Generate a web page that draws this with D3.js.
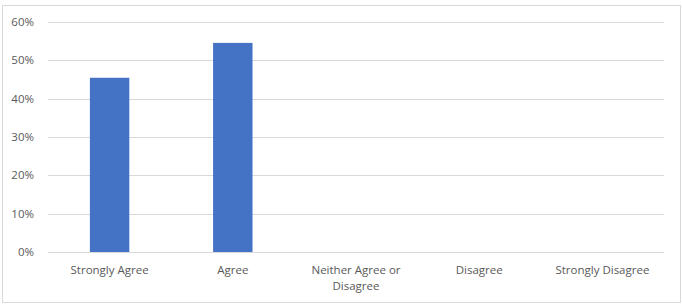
<!DOCTYPE html>
<html>
<head>
<meta charset="utf-8">
<script src="https://cdn.jsdelivr.net/npm/d3@7"></script>
<style>
  body { margin: 0; background: #fff; }
  text { font-family: "Open Sans", "Noto Sans", sans-serif; fill: #595959; }
</style>
</head>
<body>
<div id="chart"></div>
<script>
var categories = ["Strongly Agree", "Agree", "Neither Agree or Disagree", "Disagree", "Strongly Disagree"];
var values = [0.4545, 0.5455, 0, 0, 0];
var yTicks = [0, 0.1, 0.2, 0.3, 0.4, 0.5, 0.6];

var width = 682, height = 305;
var margin = {top: 22, right: 18, bottom: 53, left: 48};

var svg = d3.select("#chart").append("svg")
    .attr("width", width).attr("height", height);

svg.append("rect")
    .attr("x", 2.5).attr("y", 5.5)
    .attr("width", 678).attr("height", 297)
    .attr("fill", "#fff").attr("stroke", "#d9d9d9");

var x = d3.scaleBand()
    .domain(categories)
    .range([margin.left, width - margin.right])
    .paddingInner(0.68).paddingOuter(0.34);

var y = d3.scaleLinear()
    .domain([0, 0.6])
    .range([height - margin.bottom, margin.top]);

// gridlines
svg.append("g").selectAll("line").data(yTicks).enter().append("line")
    .attr("x1", margin.left).attr("x2", width - margin.right)
    .attr("y1", d => Math.round(y(d)) + 0.5).attr("y2", d => Math.round(y(d)) + 0.5)
    .attr("stroke", "#d9d9d9").attr("stroke-width", 1);

// y tick labels
svg.append("g").selectAll("text").data(yTicks).enter().append("text")
    .attr("x", 34).attr("y", d => y(d))
    .attr("dy", "0.35em")
    .attr("text-anchor", "end")
    .attr("font-size", "11.5px")
    .text(d => d3.format(".0%")(d));

// bars
svg.append("g").selectAll("rect").data(values).enter().append("rect")
    .attr("x", (d, i) => x(categories[i]))
    .attr("width", x.bandwidth())
    .attr("y", d => y(d))
    .attr("height", d => y(0) - y(d))
    .attr("fill", "#4472c4");

// category labels (wrap long ones)
var labelLines = {"Neither Agree or Disagree": ["Neither Agree or", "Disagree"]};
var xl = svg.append("g").selectAll("text").data(categories).enter().append("text")
    .attr("text-anchor", "middle")
    .attr("font-size", "11.5px")
    .attr("y", height - margin.bottom + 22);
xl.each(function (d) {
    var lines = labelLines[d] || [d];
    var t = d3.select(this);
    lines.forEach(function (l, k) {
        t.append("tspan")
            .attr("x", x(d) + x.bandwidth() / 2)
            .attr("dy", k === 0 ? 0 : 15.5)
            .text(l);
    });
});
</script>
</body>
</html>
